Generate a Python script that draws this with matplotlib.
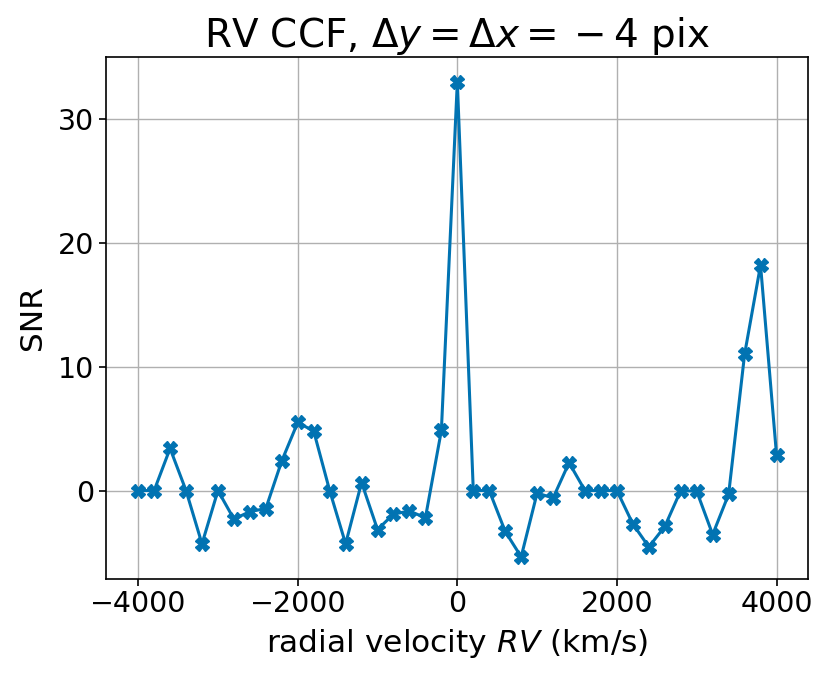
import numpy as np
import matplotlib
matplotlib.use("Agg")
import matplotlib.pyplot as plt

rv = list(range(-4000, 4001, 200))
snr = [0, 0, 3.4, 0, -4.3, 0, -2.3, -1.7, -1.45, 2.4, 5.5, 4.8, 0, -4.3, 0.65, -3.15,
       -1.9, -1.65, -2.2, 4.85, 33.0, 0, 0, -3.3, -5.35, -0.2, -0.6, 2.25, 0, 0, 0,
       -2.7, -4.55, -2.9, 0, -0.05, -3.55, -0.3, 11.0, 18.2, 2.9]

plt.rcParams['font.family'] = ['DejaVu Sans']
fig = plt.figure(figsize=(8.3, 6.79), dpi=100)
ax = fig.add_axes([0.128, 0.148, 0.846, 0.768])
ax.plot(rv, snr, color='#0173B2', lw=2.2, marker='X', ms=10)
ax.grid(True, color='#b0b0b0', lw=1)
ax.set_axisbelow(True)
ax.set_xlim(-4400, 4400)
ax.set_ylim(-7.1, 35)
ax.set_xticks([-4000, -2000, 0, 2000, 4000])
ax.set_yticks([0, 10, 20, 30])
ax.tick_params(labelsize=20.5, width=1.2, length=5)
ax.set_xlabel(r'radial velocity $RV$ (km/s)', fontsize=22.5, labelpad=6)
ax.set_ylabel('SNR', fontsize=22.5, labelpad=8)
ax.set_title(r'RV CCF, $\Delta y = \Delta x = {}-4$ pix', fontsize=28)
for s in ax.spines.values():
    s.set_linewidth(1.2)
fig.savefig('out.png', dpi=100)
